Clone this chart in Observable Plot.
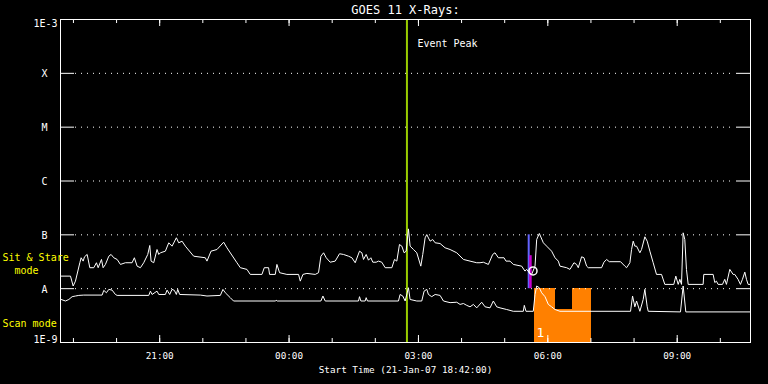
<!DOCTYPE html>
<html><head><meta charset="utf-8">
<script src="https://cdn.jsdelivr.net/npm/d3@7"></script>
<script src="https://cdn.jsdelivr.net/npm/@observablehq/plot@0.6"></script>
<style>
html,body{margin:0;padding:0;background:#000;}
#chart{width:768px;height:384px;overflow:hidden;}
svg{display:block;}
</style></head><body><div id="chart"></div>
<script>
// ---- data ----
const title = "GOES 11 X-Rays:";
const xLabel = "Start Time (21-Jan-07 18:42:00)";
const startTime = "2007-01-21T18:42:00Z";
const endTime = "2007-01-22T10:42:00Z";
const levelFlux = [1e-8, 1e-7, 1e-6, 1e-5, 1e-4];
const levelNames = ["A", "B", "C", "M", "X"];
const topLabel = "1E-3", bottomLabel = "1E-9";
const fluxUnit = 1e-8; // series values below are in units of 1e-8 W/m^2
// [minutes after start, flux] long channel (upper curve)
const longSeries = [[1,1.71],[13.9,1.71],[17.6,1.12],[20.8,1.38],[26.9,3.03],[28.7,3.75],[31.5,3.25],[33.4,3.91],[37.1,4.32],[40.8,2.45],[46.3,2.45],[50,3.03],[52.4,2.45],[57,3.49],[59.3,2.45],[62.5,2.82],[67.2,4.01],[70.4,4.32],[74.1,3.75],[78.8,3.49],[83.4,2.82],[90.3,3.03],[99.6,3.03],[102.8,3.75],[106.6,2.62],[111.2,2.45],[115.8,3.03],[121.4,4.32],[124.2,6.34],[126,3.25],[129.7,3.03],[134.3,5.34],[136.7,4.32],[139,4.64],[145.9,4.97],[150.6,7.11],[155.2,6.16],[161.2,8.81],[164.5,7.11],[169.1,7.63],[173.7,6.16],[185.3,4.01],[201.5,3.75],[203.8,3.25],[209.4,4.97],[217.7,5.34],[227,7.3],[231.6,5.74],[245.5,3.03],[250.2,2.45],[259.4,2.28],[264,1.84],[280.3,1.84],[283.5,2.45],[289.5,2.45],[290.9,1.84],[298.8,1.84],[301.1,2.82],[304.8,1.98],[315,1.84],[331.2,1.84],[333.6,1.38],
[337.3,1.84],[342.8,1.92],[354.4,1.84],[359,1.98],[362.3,4.01],[366,4.64],[369.7,3.75],[375.2,3.10],[382.2,3.25],[388.2,4.45],[393.8,4.32],[400.7,4.01],[405.4,3.75],[410,3.03],[416,4.97],[419.3,4.64],[421.6,3.49],[425.3,4.32],[428.5,3.38],[431.8,3.75],[434.5,3.10],[439.2,3.10],[442.4,3.25],[447,3.10],[451.7,2.45],[461,2.45],[464.7,3.49],[467.9,3.25],[471.6,6.61],[474.9,6.16],[478.1,4.64],[480.9,4.97],[484.1,12.9],[486.4,6.16],[491.1,5.34],[495.7,4.64],[501.3,2.62],[504,4.32],[507.3,8.81],[509.6,10.1],[514.2,7.63],[517.9,8.17],[521.2,7.11],[528.1,6.9],[535.1,5.74],[542,5.34],[551.3,4.64],[560.6,3.49],[569.8,3.25],[579.1,3.03],
[583.7,3.03],[588.3,3.10],[595.3,2.82],[601.3,4.32],[604.5,4.64],[609.2,3.75],[617.1,3.75],[619.8,3.25],[625.4,3.25],[630,2.82],[641.6,2.62],[646.2,2.12],[648.6,2.28],[652.3,1.98],[655.5,1.84],[660.2,2.62],[662.5,8.17],[666.2,10.6],[671.8,7.11],[676.4,6.16],[683.3,4.97],[688,3.75],[692.6,3.25],
[694.9,2.62],[704.2,2.45],[708.8,2.28],[714.4,3.03],[718.1,2.82],[720.4,2.45],[725,3.91],[728.3,3.75],[732,2.62],[734.3,2.45],[752.8,2.45],[756.1,3.10],[759.8,3.49],[763.5,3.17],[779.2,3.17],[785.2,2.62],[787.6,2.45],[792.2,3.03],[794.5,5.34],[796.8,7.63],[799.1,6.16],[801.5,6.16],[806.1,4.64],[808.4,5.34],[813,9.19],[816.3,7.63],[820,4.97],[824.6,3.03],[829.2,1.84],[836.2,1.84],[840.8,1.20],[853.3,1.20],[856.1,1.71],[859.4,1.20],[861.7,1.49],[864,1.20],[866.3,10.9],[868.6,8.17],[870.9,2.28],[873.3,1.20],[894.1,1.20],[895,1.84],[908,1.84],[910.3,1.30],[912.6,1.38],[914.9,1.20],[921,1.20],[924.2,1.49],[926.5,1.20],[931.2,2.28],[935.8,1.84],[938.1,1.84],[942.7,1.49],[946,1.20],[948.8,1.49],[952.1,2.03],[954.4,1.49],[956.7,1.20],[960,1.20]];
// short channel (lower curve)
const shortSeries = [[0.9,0.63],[6.9,0.59],[11.6,0.63],[16.2,0.71],[20.8,0.73],[25.5,0.75],[32.4,0.76],[57.9,0.76],[60.2,0.93],[63.9,0.84],[67.2,0.97],[71.8,0.94],[76.4,0.78],[78.8,0.75],[122.8,0.75],[125.1,0.90],[127.4,0.78],[134.3,0.90],[136.7,0.78],[145.9,0.78],[148.3,0.94],[151.9,0.78],[155.2,0.97],[158.4,0.93],[161.2,0.78],[163.1,0.97],[165.8,0.78],[194.6,0.76],[203.8,0.73],[222.4,0.75],[226,0.97],[229.3,0.84],[236.2,0.68],[240.8,0.59],[298.8,0.59],[300,0.61],[301.5,0.59],[362.3,0.59],[365.1,0.73],[368.3,0.59],[414.6,0.59],[416,0.71],[417.9,0.59],[423.9,0.59],[425.3,0.68],[427.1,0.59],[470.2,0.59],[472.5,0.78],[476.2,0.73],[479.5,0.59],[484.1,1.04],[486.4,0.63],[495.7,0.59],[502.6,0.59],[505.9,0.90],[509.6,0.97],[511.9,0.78],[516.5,0.71],[521.2,0.78],[528.1,0.75],[532.8,0.59],[542,0.55],[551.3,0.56],[555.9,0.51],[560.6,0.53],[565.2,0.49],[569.8,0.46],[574.5,0.51],[579.1,0.44],[586,0.56],[590.7,0.46],[597.6,0.44],[602.2,0.59],[606.9,0.46],[611.5,0.44],[620.8,0.41],[630,0.38],[643.9,0.38],[645.3,0.49],[647.6,0.38],[657.8,0.38],[660.2,0.78],[662.5,1.12],[666.2,1.04],[669.4,0.84],[674.1,0.71],[678.7,0.51],[683.3,0.46],[688,0.41],[694.9,0.38],[793.1,0.38],[795.9,0.73],[799.1,0.46],[801.5,0.59],[806.1,0.38],[810.7,0.63],[813,0.97],[816.3,0.46],[817.7,0.38],[862.6,0.37],[866.3,1.12],[870,0.37],[960,0.37]];
const eventPeakTime = "2007-01-22T02:44:00Z";
const eventLabel = "Event Peak";
const flareMark = {time: "2007-01-22T05:33:24Z", top: 1e-7};
const flareBar = {time: "2007-01-22T05:35:50Z", top: 4.1e-8};
const flareCircle = {time: "2007-01-22T05:39:24Z", flux: 2.14e-8};
const scanStart = ["2007-01-22T05:42:00Z", "2007-01-22T06:10:00Z", "2007-01-22T06:35:00Z"];
const scanEnd   = ["2007-01-22T06:10:00Z", "2007-01-22T06:35:00Z", "2007-01-22T07:01:00Z"];
const scanTop   = [1e-8, 4.1e-9, 1e-8];
const scanLabel = "1";
const modeLabels = [
  {text: "Sit & Stare", flux: 3.2e-8},
  {text: "\u00a0\u00a0mode", flux: 1.84e-8},
  {text: "Scan mode", flux: 1.9e-9}
];

// ---- build ----
const T0 = new Date(startTime), T1 = new Date(endTime);
const toDate = m => new Date(T0.getTime() + m * 60000);
const long = longSeries.map(([m, f]) => ({t: toDate(m), f: f * fluxUnit}));
const short = shortSeries.map(([m, f]) => ({t: toDate(m), f: f * fluxUnit}));
const levels = levelFlux.map((f, i) => ({f, name: levelNames[i]}));
const scan = scanStart.map((s, i) => ({x1: new Date(s), x2: new Date(scanEnd[i]), y1: 1e-9, y2: scanTop[i]}));
const hours = d3.utcHour.range(T0, T1);
const major = hours.filter(d => d.getUTCHours() % 3 === 0);
const fmt = d3.utcFormat("%H:%M");

const W = 768, H = 384, mL = 60, mR = 18, mT = 19, mB = 42;
const iW = W - mL - mR, iH = H - mT - mB;
const font = "DejaVu Sans Mono";
const white = "#ffffff";

const chart = Plot.plot({
  width: W, height: H,
  marginLeft: mL, marginRight: mR, marginTop: mT, marginBottom: mB,
  style: {background: "#000", color: white, fontFamily: font, overflow: "visible"},
  x: {type: "utc", domain: [T0, T1], axis: null},
  y: {type: "log", domain: [1e-9, 1e-3], axis: null},
  marks: [
    Plot.rect(scan, {x1: "x1", x2: "x2", y1: "y1", y2: "y2", fill: "#ff8000", shapeRendering: "crispEdges"}),
    Plot.ruleY(levels, {y: "f", stroke: white, strokeDasharray: "1,5", insetLeft: 15, insetRight: 15}),
    Plot.ruleY(levels, {y: "f", stroke: white, insetRight: iW - 14}),
    Plot.ruleY(levels, {y: "f", stroke: white, insetLeft: iW - 14}),
    Plot.ruleX(hours, {stroke: white, insetTop: iH - 4}),
    Plot.ruleX(hours, {stroke: white, insetBottom: iH - 4}),
    Plot.ruleX(major, {stroke: white, insetTop: iH - 7}),
    Plot.ruleX(major, {stroke: white, insetBottom: iH - 7}),
    Plot.ruleX([{t: new Date(eventPeakTime)}], {x: "t", stroke: "#99cc00", strokeWidth: 2}),
    Plot.ruleX([{t: new Date(flareMark.time), y1: 1e-8, y2: flareMark.top}], {x: "t", y1: "y1", y2: "y2", stroke: "#6464ff", strokeWidth: 2}),
    Plot.ruleX([{t: new Date(flareBar.time), y1: 1e-8, y2: flareBar.top}], {x: "t", y1: "y1", y2: "y2", stroke: "#c800d0", strokeWidth: 2.5}),
    Plot.line(long, {x: "t", y: "f", stroke: white, strokeWidth: 1}),
    Plot.line(short, {x: "t", y: "f", stroke: white, strokeWidth: 1}),
    Plot.dot([{t: new Date(flareCircle.time), f: flareCircle.flux}], {x: "t", y: "f", r: 4, stroke: white, fill: "none"}),
    Plot.frame({stroke: white}),
    Plot.text([{t: new Date(scanStart[0]), f: 1.25e-9}], {x: "t", y: "f", text: () => scanLabel, dx: 1.5, textAnchor: "start", lineAnchor: "bottom", fill: white, fontSize: 13, fontFamily: font}),
    Plot.text([title], {frameAnchor: "top", dy: -6, lineAnchor: "bottom", fontSize: 12, fill: white, fontFamily: font}),
    Plot.text(levels, {y: "f", text: "name", frameAnchor: "left", dx: -16, dy: 4, textAnchor: "middle", lineAnchor: "bottom", fontSize: 10, fill: white, fontFamily: font}),
    Plot.text([{f: 1e-3}], {y: "f", text: () => topLabel, frameAnchor: "left", dx: -3, dy: 7.5, textAnchor: "end", lineAnchor: "bottom", fontSize: 10, fill: white, fontFamily: font}),
    Plot.text([{f: 1e-9}], {y: "f", text: () => bottomLabel, frameAnchor: "left", dx: -3, dy: 0.5, textAnchor: "end", lineAnchor: "bottom", fontSize: 10, fill: white, fontFamily: font}),
    Plot.text(major, {x: d => d, text: d => fmt(d), frameAnchor: "bottom", dy: 16, lineAnchor: "bottom", fontSize: 9.3, fill: white, fontFamily: font}),
    Plot.text([xLabel], {frameAnchor: "bottom", dy: 30, lineAnchor: "bottom", fontSize: 9.3, fill: white, fontFamily: font}),
    Plot.text([{t: new Date(eventPeakTime)}], {x: "t", text: () => eventLabel, frameAnchor: "top", dx: 10.5, dy: 27.5, textAnchor: "start", lineAnchor: "bottom", fontSize: 10, fill: white, fontFamily: font}),
    Plot.text(modeLabels, {y: "flux", text: "text", frameAnchor: "left", dx: -58, textAnchor: "start", lineAnchor: "bottom", fontSize: 10, fill: "#ffff00", fontFamily: font})
  ]
});
document.getElementById("chart").appendChild(chart);
</script>
</body></html>
